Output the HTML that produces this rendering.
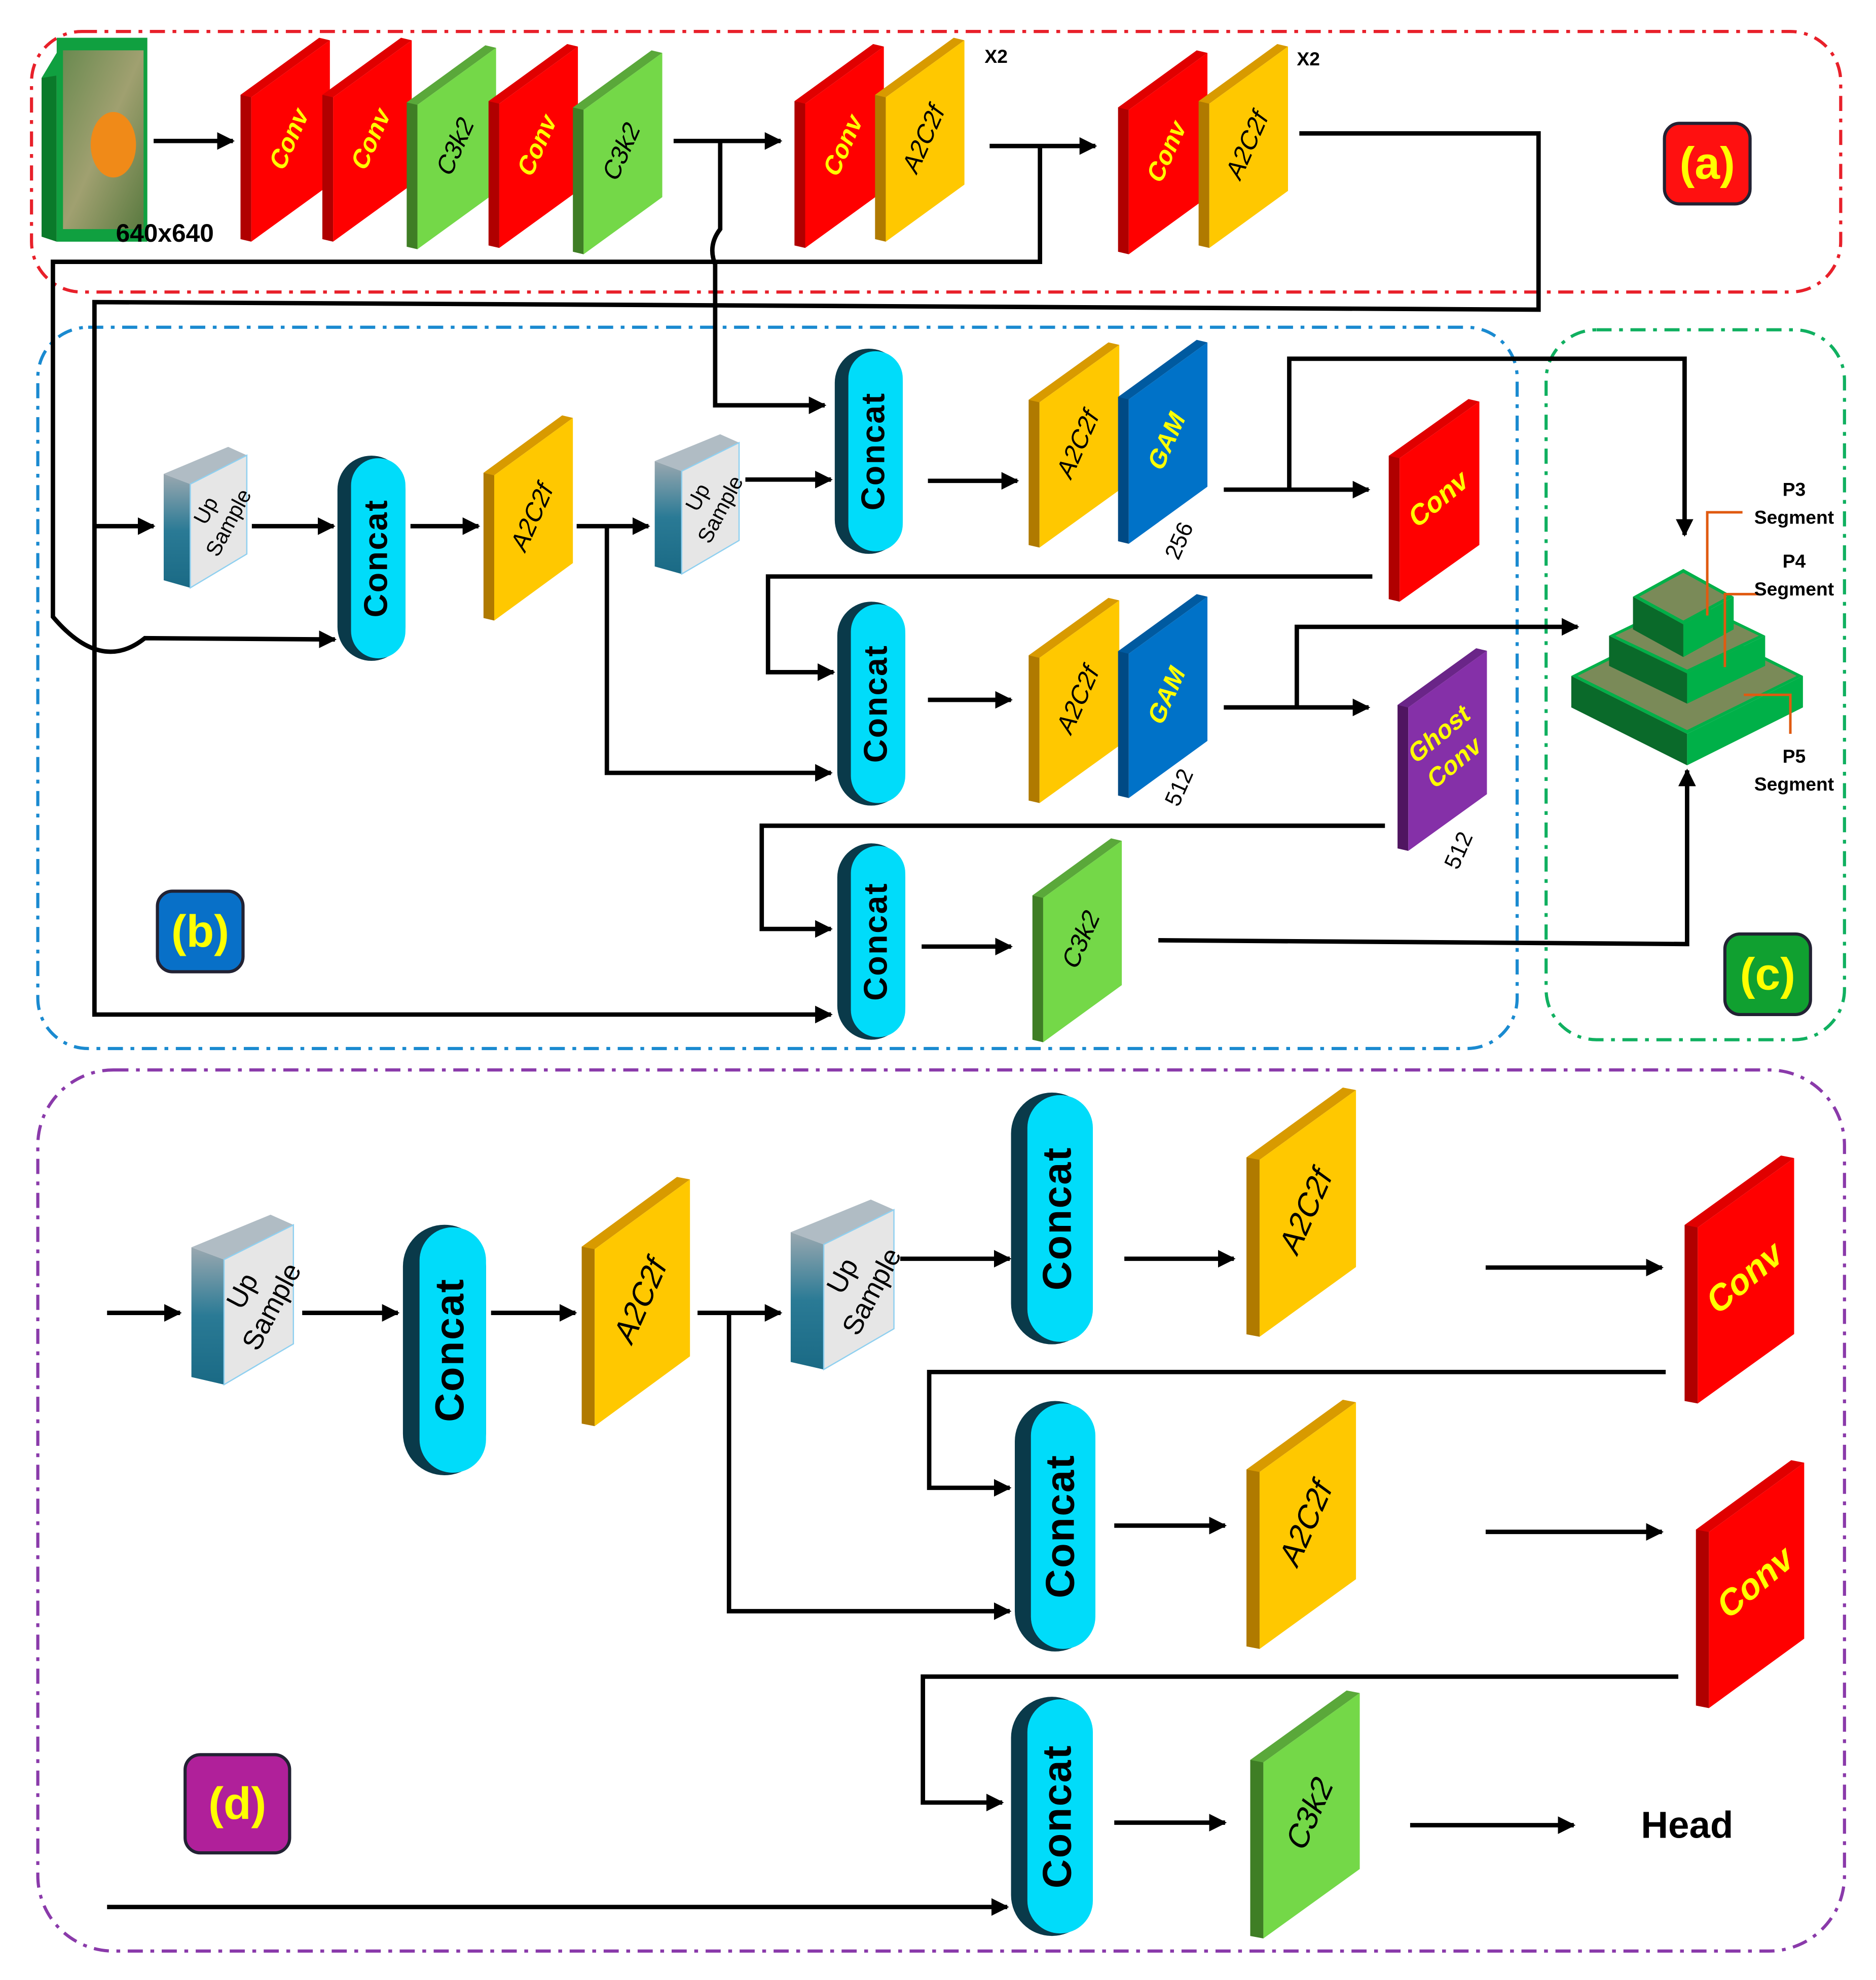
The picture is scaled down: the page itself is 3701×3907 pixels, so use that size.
<!DOCTYPE html>
<html><head><meta charset="utf-8"><style>html,body{margin:0;padding:0;background:#fff}svg{display:block}</style></head>
<body>
<svg id="s" xmlns="http://www.w3.org/2000/svg" width="3701" height="3907" viewBox="0 0 1490 1573" font-family="Liberation Sans, sans-serif">
<defs>
<marker id="ah" viewBox="0 0 10 10" refX="9" refY="5" markerWidth="4" markerHeight="4" orient="auto" markerUnits="strokeWidth"><path d="M0,0 L10,5 L0,10 z" fill="#000"/></marker>
<linearGradient id="ug" x1="0" y1="0" x2="0" y2="1"><stop offset="0" stop-color="#9aa8b0"/><stop offset="0.5" stop-color="#2a7a95"/><stop offset="1" stop-color="#1a6a85"/></linearGradient>
<linearGradient id="img" x1="0" y1="0" x2="1" y2="1"><stop offset="0" stop-color="#6a8a50"/><stop offset="0.5" stop-color="#a0a070"/><stop offset="1" stop-color="#5a7a40"/></linearGradient>
</defs>
<g id="g"></g>
</svg>
<script>
var g=document.getElementById('g'),h='';
function rr(x,y,w,hh,c,dash,rx){h+=`<rect x="${x}" y="${y}" width="${w}" height="${hh}" rx="${rx||40}" fill="none" stroke="${c}" stroke-width="2.5" stroke-dasharray="12 6 3 6"/>`;}
rr(25,25,1437,207,'#e8202a');
rr(30,260,1175,573,'#1a8ad0');
rr(1228,262,237,564,'#10b060');
rr(30,850,1435,700,'#8a3aaa',0,60);
function slab(x,y,w,hh,fill,dark,top,label,lc,ang,fs){
 var sk=hh*0.28,t=Math.max(8,w*0.12);
 var fx=x+t;
 h+=`<polygon points="${x},${y+sk} ${fx},${y+sk-3} ${fx},${y+hh} ${x},${y+hh-2}" fill="${dark}"/>`;
 h+=`<polygon points="${x},${y+sk} ${x+w-t},${y} ${x+w},${y+2} ${fx},${y+sk+2}" fill="${top}"/>`;
 h+=`<polygon points="${fx},${y+sk+2} ${x+w},${y+2} ${x+w},${y+hh-sk} ${fx},${y+hh}" fill="${fill}"/>`;
 var cx=(fx+x+w)/2,cy=y+hh/2;
 var lines=label.split('|');
 h+=`<g transform="translate(${cx},${cy}) rotate(${ang})">`;
 lines.forEach(function(L,i){var off=(i-(lines.length-1)/2)*fs*1.25;
 h+=`<text x="0" y="${off}" transform="skewX(-12)" text-anchor="middle" dominant-baseline="middle" font-size="${fs}" fill="${lc}" font-weight="${lc=='#000'?'normal':'bold'}">${L}</text>`;});
 h+=`</g>`;
}
var R=['#ff0000','#b00000','#e00000'],G=['#74d848','#3f7e25','#5aa83a'],Y=['#ffc800','#b07a00','#d89a00'],B=['#0072c8','#004a85','#005aa0'],P=['#8530a8','#4f1560','#6a2588'];
function S(x,y,w,hh,c,l,lc,ang,fs){slab(x,y,w,hh,c[0],c[1],c[2],l,lc,ang,fs);}
h+=`<polygon points="33,62 45,42 45,192 33,188" fill="#0a7a2a"/><polygon points="33,62 45,42 117,30 105,50" fill="#10a040"/><rect x="45" y="30" width="72" height="162" fill="#10a040"/><rect x="50" y="40" width="64" height="142" fill="url(#img)"/><ellipse cx="90" cy="115" rx="18" ry="26" fill="#f08a18"/>`;
h+=`<text x="92" y="192" font-size="20" font-weight="bold">640x640</text>`;
S(191,30,71,162,R,'Conv','#ff0','-66',20);
S(256,30,71,162,R,'Conv','#ff0','-66',20);
S(323,36,71,162,G,'C3k2','#000','-66',20);
S(388,35,71,162,R,'Conv','#ff0','-66',20);
S(455,40,71,162,G,'C3k2','#000','-66',20);
S(631,35,71,162,R,'Conv','#ff0','-66',20);
S(695,30,71,162,Y,'A2C2f','#000','-66',20);
S(888,40,71,162,R,'Conv','#ff0','-66',20);
S(952,35,71,162,Y,'A2C2f','#000','-66',20);
h+=`<text x="782" y="50" font-size="15" font-weight="bold">X2</text><text x="1030" y="52" font-size="15" font-weight="bold">X2</text>`;
function lab(x,y,w,hh,fill,t){h+=`<rect x="${x}" y="${y}" width="${w}" height="${hh}" rx="12" fill="${fill}" stroke="#223" stroke-width="2.5"/><text x="${x+w/2}" y="${y+hh/2+12}" text-anchor="middle" font-size="36" font-weight="bold" fill="#ff0">${t}</text>`;}
lab(1322,98,68,64,'#ff1010','(a)');
lab(125,708,68,64,'#0870c8','(b)');
lab(1370,742,68,64,'#10a030','(c)');
lab(147,1394,83,78,'#b0209a','(d)');
function L(d,arrow){h+=`<path d="${d}" fill="none" stroke="#000" stroke-width="3.5" ${arrow?'marker-end="url(#ah)"':''}/>`;}
L('M122,112 H185',1);
L('M535,112 H620',1);
L('M572,112 V182 Q562,195 568,210 V322 H655',1);
L('M786,116 H870',1);
L('M826,116 V208 H42 V490 Q80,535 115,507 L266,508',1);
L('M1032,106 H1222 V246 L75,240 V806 H660',1);
L('M75,418 H122',1);
function up(x,y,w,hh,fs){var sd=w*0.32,tp=hh*0.12;
 h+=`<polygon points="${x},${y+tp*1.6} ${x+sd},${y+tp*2.2} ${x+sd},${y+hh} ${x},${y+hh-6}" fill="url(#ug)"/>`;
 h+=`<polygon points="${x},${y+tp*1.6} ${x+w-sd*0.7},${y} ${x+w},${y+tp*0.5} ${x+sd},${y+tp*2.2}" fill="#b0bcc4"/>`;
 h+=`<polygon points="${x+sd},${y+tp*2.2} ${x+w},${y+tp*0.5} ${x+w},${y+hh-tp*2} ${x+sd},${y+hh}" fill="#e6e6e6" stroke="#8fd0f0" stroke-width="1"/>`;
 var cx=x+sd+(w-sd)/2,cy=y+hh/2;
 h+=`<g transform="translate(${cx},${cy}) rotate(-62)"><text x="0" y="${-fs*0.6}" text-anchor="middle" dominant-baseline="middle" font-size="${fs}">Up</text><text x="0" y="${fs*0.6}" text-anchor="middle" dominant-baseline="middle" font-size="${fs}">Sample</text></g>`;}
function cc(x,y,w,hh,fs){var r=w/2;
 h+=`<rect x="${x}" y="${y}" width="${w}" height="${hh}" rx="${r}" fill="#0a3a4a"/>`;
 h+=`<rect x="${x+w*0.2}" y="${y+2}" width="${w*0.8}" height="${hh-4}" rx="${r*0.8}" fill="#00dcfa"/>`;
 h+=`<text transform="translate(${x+w*0.6},${y+hh/2}) rotate(-90)" text-anchor="middle" dominant-baseline="middle" font-size="${fs}" font-weight="bold" letter-spacing="1">Concat</text>`;}
up(130,355,66,112,17);
L('M200,418 H265',1);
cc(268,362,54,163,26);
L('M326,418 H380',1);
S(384,330,71,163,Y,'A2C2f','#000','-66',20);
L('M458,418 H515',1);
L('M482,418 V614 H660',1);
up(520,345,67,111,17);
L('M592,381 H660',1);
cc(663,277,54,163,26);
L('M737,382 H808',1);
S(817,272,72,163,Y,'A2C2f','#000','-66',20);
S(888,270,71,162,B,'GAM','#ff0','-66',20);
h+=`<text transform="translate(942,432) rotate(-66)" font-size="18" text-anchor="middle">256</text>`;
L('M972,389 H1087',1);
L('M1024,389 V285 H1338 V425',1);
S(1103,317,72,161,R,'Conv','#ff0','-40',22);
L('M1090,458 H610 V534 H662',1);
cc(665,478,54,162,26);
L('M737,556 H803',1);
S(817,475,72,163,Y,'A2C2f','#000','-66',20);
S(888,472,71,162,B,'GAM','#ff0','-66',20);
h+=`<text transform="translate(942,628) rotate(-66)" font-size="18" text-anchor="middle">512</text>`;
L('M972,562 H1087',1);
L('M1030,562 V498 H1253',1);
S(1110,515,71,161,P,'Ghost|Conv','#ff0','-40',20);
h+=`<text transform="translate(1164,678) rotate(-66)" font-size="18" text-anchor="middle">512</text>`;
L('M1100,656 H605 V738 H660',1);
cc(665,670,54,156,26);
L('M732,752 H803',1);
S(820,666,71,162,G,'C3k2','#000','-66',20);
L('M920,747 L1340,750 V612',1);
function tier(cx,cy,a,b,d){
 h+=`<polygon points="${cx-a},${cy} ${cx},${cy+b} ${cx},${cy+b+d} ${cx-a},${cy+d}" fill="#0a6a2a"/>`;
 h+=`<polygon points="${cx},${cy+b} ${cx+a},${cy} ${cx+a},${cy+d} ${cx},${cy+b+d}" fill="#00b048"/>`;
 h+=`<polygon points="${cx-a},${cy} ${cx},${cy-b} ${cx+a},${cy} ${cx},${cy+b}" fill="#00b048"/>`;
 h+=`<polygon points="${cx-a+5},${cy} ${cx},${cy-b+3} ${cx+a-5},${cy} ${cx},${cy+b-3}" fill="#7a8a58"/>`;}
tier(1340,537,92,46,25);
tier(1340,505,62,30,24);
tier(1337,474,40,22,26);
h+=`<path d="M1356,489 V407 H1384 M1370,530 V472 H1397 M1385,552 H1422 V583" fill="none" stroke="#e05a10" stroke-width="2"/>`;
[['P3',1425,394],['Segment',1425,416],['P4',1425,451],['Segment',1425,473],['P5',1425,606],['Segment',1425,628]].forEach(function(a){h+=`<text x="${a[1]}" y="${a[2]}" text-anchor="middle" font-size="15" font-weight="bold">${a[0]}</text>`;});
L('M85,1043 H143',1);
up(152,965,81,135,22);
L('M240,1043 H316',1);
cc(320,973,66,199,32);
L('M390,1043 H457',1);
S(462,935,86,198,Y,'A2C2f','#000','-66',25);
L('M554,1043 H620',1);
L('M579,1043 V1280 H802',1);
up(628,953,82,135,22);
L('M715,1000 H802',1);
cc(803,868,65,200,32);
L('M893,1000 H980',1);
S(990,864,87,198,Y,'A2C2f','#000','-66',25);
L('M1180,1007 H1320',1);
S(1338,918,87,197,R,'Conv','#ff0','-40',28);
L('M1323,1090 H738 V1182 H802',1);
cc(806,1113,64,199,32);
L('M885,1212 H973',1);
S(990,1112,87,198,Y,'A2C2f','#000','-66',25);
L('M1180,1217 H1320',1);
S(1347,1160,86,197,R,'Conv','#ff0','-40',28);
L('M1333,1332 H733 V1432 H796',1);
cc(803,1348,65,190,32);
L('M885,1448 H973',1);
S(993,1343,87,197,G,'C3k2','#000','-66',25);
L('M1120,1450 H1250',1);
h+=`<text x="1340" y="1460" text-anchor="middle" font-size="30" font-weight="bold">Head</text>`;
L('M85,1515 H800',1);
g.innerHTML=h;
</script>
</body></html>
